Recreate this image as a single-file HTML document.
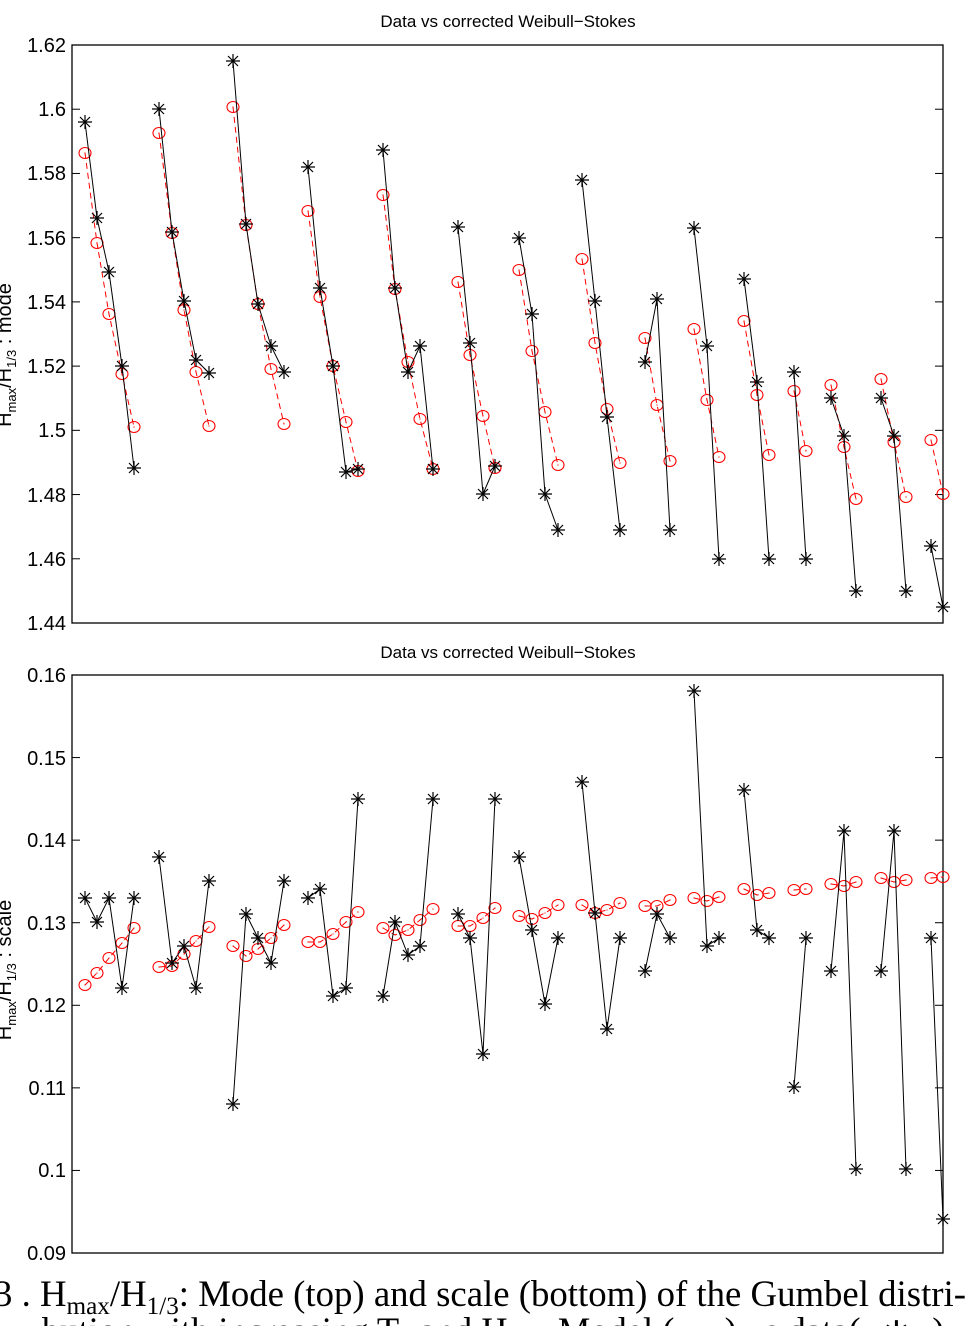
<!DOCTYPE html>
<html><head><meta charset="utf-8"><style>
html,body{margin:0;padding:0;background:#fff;width:969px;height:1326px;overflow:hidden;}
svg{display:block}
</style></head><body>
<svg id="s" width="969" height="1326" xmlns="http://www.w3.org/2000/svg" font-family="Liberation Sans, sans-serif">
<rect width="969" height="1326" fill="#fff"/>
<text x="508" y="27" font-size="17" text-anchor="middle">Data vs corrected Weibull−Stokes</text>
<text x="508" y="658" font-size="17" text-anchor="middle">Data vs corrected Weibull−Stokes</text>
<rect x="72" y="45" width="871" height="578" fill="none" stroke="#000" stroke-width="1.3"/>
<rect x="72" y="675" width="871" height="578" fill="none" stroke="#000" stroke-width="1.3"/>
<g font-size="20" text-anchor="end">
<text x="66" y="52">1.62</text><text x="66" y="116">1.6</text><text x="66" y="180">1.58</text><text x="66" y="245">1.56</text><text x="66" y="309">1.54</text><text x="66" y="373">1.52</text><text x="66" y="437">1.5</text><text x="66" y="502">1.48</text><text x="66" y="566">1.46</text><text x="66" y="630">1.44</text>
<text x="66" y="682">0.16</text><text x="66" y="765">0.15</text><text x="66" y="847">0.14</text><text x="66" y="930">0.13</text><text x="66" y="1012">0.12</text><text x="66" y="1095">0.11</text><text x="66" y="1177">0.1</text><text x="66" y="1260">0.09</text>
</g>
<text transform="translate(11,355) rotate(-90)" font-size="20" text-anchor="middle">H<tspan font-size="13" dy="5">max</tspan><tspan dy="-5">/H</tspan><tspan font-size="13" dy="5">1/3</tspan><tspan dy="-5"> : mode</tspan></text>
<text transform="translate(11,970) rotate(-90)" font-size="20" text-anchor="middle">H<tspan font-size="13" dy="5">max</tspan><tspan dy="-5">/H</tspan><tspan font-size="13" dy="5">1/3</tspan><tspan dy="-5"> : scale</tspan></text>
<text x="-6" y="1306" font-family="Liberation Serif, serif" font-size="36.5" textLength="972" lengthAdjust="spacingAndGlyphs">3 . H<tspan font-size="25" dy="8">max</tspan><tspan dy="-8">/H</tspan><tspan font-size="25" dy="8">1/3</tspan><tspan dy="-8">: Mode (top) and scale (bottom) of the Gumbel distri-</tspan></text>
<text x="42" y="1343" font-family="Liberation Serif, serif" font-size="36.5">bution with increasing T<tspan font-size="25" dy="8">z</tspan><tspan dy="-8"> and H</tspan><tspan font-size="25" dy="8">1/3</tspan><tspan dy="-8">. Model (− −) vs data(−∗−)</tspan></text>
<g id="g"></g>
</svg>
<script>
var NS="http://www.w3.org/2000/svg",g=document.getElementById('g');
function el(t,a){var e=document.createElementNS(NS,t);for(var k in a)e.setAttribute(k,a[k]);g.appendChild(e);return e;}
for(var i=0;i<10;i++){var y=45+i*578/9;el('line',{x1:72,y1:y,x2:80,y2:y,stroke:'#000'});el('line',{x1:943,y1:y,x2:935,y2:y,stroke:'#000'});}
for(var i=0;i<8;i++){var y=675+i*578/7;el('line',{x1:72,y1:y,x2:80,y2:y,stroke:'#000'});el('line',{x1:943,y1:y,x2:935,y2:y,stroke:'#000'});}
var TB=[[[85,122],[97,218],[109,272],[122,366],[134,468]],[[159,109],[172,232],[184,301],[196,360],[209,373]],[[233,61],[246,224],[258,304],[271,346],[284,372]],[[308,167],[320,288],[333,366],[346,472],[358,469]],[[383,150],[395,288],[408,372],[420,346],[433,469]],[[458,227],[470,343],[483,494],[495,466]],[[519,238],[532,314],[545,494],[558,530]],[[582,180],[595,301],[607,417],[620,530]],[[645,362],[657,299],[670,530]],[[694,228],[707,346],[719,559]],[[744,279],[757,382],[769,559]],[[794,372],[806,559]],[[831,398],[844,436],[856,591]],[[881,398],[894,436],[906,591]],[[931,546],[943,607]]];
var TR=[[[85,153],[97,243],[109,314],[122,374],[134,427]],[[159,133],[172,233],[184,310],[196,372],[209,426]],[[233,107],[246,225],[258,304],[271,369],[284,424]],[[308,211],[320,297],[333,366],[346,422],[358,471]],[[383,195],[395,289],[408,362],[420,419],[433,469]],[[458,282],[470,355],[483,416],[495,468]],[[519,270],[532,351],[545,412],[558,465]],[[582,259],[595,343],[607,409],[620,463]],[[645,338],[657,405],[670,461]],[[694,329],[707,400],[719,457]],[[744,321],[757,395],[769,455]],[[794,391],[806,451]],[[831,385],[844,447],[856,499]],[[881,379],[894,442],[906,497]],[[931,440],[943,494]]];
var BB=[[[85,898],[97,922],[109,898],[122,988],[134,898]],[[159,857],[172,963],[184,946],[196,988],[209,881]],[[233,1104],[246,914],[258,938],[271,963],[284,881]],[[308,898],[320,889],[333,996],[346,988],[358,799]],[[383,996],[395,922],[408,955],[420,946],[433,799]],[[458,914],[470,938],[483,1054],[495,799]],[[519,857],[532,930],[545,1004],[558,938]],[[582,782],[595,913],[607,1029],[620,938]],[[645,971],[657,914],[670,938]],[[694,691],[707,946],[719,938]],[[744,790],[757,930],[769,938]],[[794,1087],[806,938]],[[831,971],[844,831],[856,1169]],[[881,971],[894,831],[906,1169]],[[931,938],[943,1219]]];
var BR=[[[85,985],[97,973],[109,958],[122,943],[134,928]],[[159,967],[172,966],[184,954],[196,941],[209,927]],[[233,946],[246,956],[258,949],[271,938],[284,925]],[[308,942],[320,942],[333,934],[346,922],[358,912]],[[383,928],[395,935],[408,930],[420,920],[433,909]],[[458,926],[470,926],[483,918],[495,908]],[[519,916],[532,919],[545,913],[558,905]],[[582,905],[595,913],[607,910],[620,903]],[[645,906],[657,906],[670,900]],[[694,898],[707,901],[719,897]],[[744,889],[757,895],[769,893]],[[794,890],[806,889]],[[831,884],[844,886],[856,882]],[[881,878],[894,882],[906,880]],[[931,878],[943,877]]];
function pts(a){return a.map(function(p){return p.join(',')}).join(' ');}
function red(S){S.forEach(function(s){el('polyline',{points:pts(s),fill:'none',stroke:'#f00','stroke-width':1,'stroke-dasharray':'6,4'});s.forEach(function(p){el('ellipse',{cx:p[0],cy:p[1],rx:6,ry:5.5,fill:'none',stroke:'#f00','stroke-width':1.1});el('circle',{cx:p[0],cy:p[1],r:0.6,fill:'#f00'});});});}
function blk(S){S.forEach(function(s){el('polyline',{points:pts(s),fill:'none',stroke:'#000','stroke-width':1});s.forEach(function(p){var x=p[0],y=p[1],r=7,d=5;el('path',{d:'M'+(x-r)+' '+y+'H'+(x+r)+'M'+x+' '+(y-r)+'V'+(y+r)+'M'+(x-d)+' '+(y-d)+'L'+(x+d)+' '+(y+d)+'M'+(x-d)+' '+(y+d)+'L'+(x+d)+' '+(y-d),stroke:'#000','stroke-width':1.2,fill:'none'});});});}
red(TR);blk(TB);red(BR);blk(BB);
</script>
</body></html>
